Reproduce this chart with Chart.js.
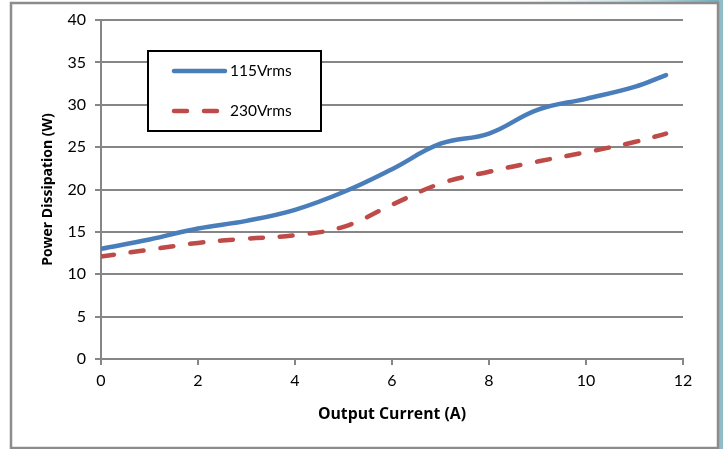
<!DOCTYPE html>
<html>
<head>
<meta charset="utf-8">
<script src="https://cdn.jsdelivr.net/npm/chart.js@4"></script>
<style>
  html, body { margin: 0; padding: 0; background: #ffffff; }
  #wrap { width: 723px; height: 449px; position: relative; }
</style>
</head>
<body>
<div id="wrap"><canvas id="c" width="723" height="449"></canvas></div>
<script>
// ---- Data ----
const seriesNames = ['115Vrms', '230Vrms'];
const current115 = [0, 1, 2, 3, 4, 5, 6, 7, 8, 9, 10, 11, 11.65];
const power115   = [13.0, 14.1, 15.4, 16.3, 17.6, 19.7, 22.4, 25.4, 26.6, 29.4, 30.7, 32.1, 33.5];
const current230 = [0, 1, 2, 3, 4, 5, 6, 7, 8, 9, 10, 11, 11.65];
const power230   = [12.1, 12.9, 13.7, 14.2, 14.6, 15.6, 18.2, 20.7, 22.1, 23.3, 24.4, 25.6, 26.6];
const xTicks = [0, 2, 4, 6, 8, 10, 12];
const yTicks = [0, 5, 10, 15, 20, 25, 30, 35, 40];
const xTitle = 'Output Current (A)';
const yTitle = 'Power Dissipation (W)';

const toPts = (xs, ys) => xs.map((x, i) => ({ x: x, y: ys[i] }));

const BLUE = '#4A7EBB';
const RED = '#BE4B48';
const GRID = '#868686';
const FONT = 'Lato, "Open Sans", sans-serif';
const TITLE_FONT = '"Open Sans", Lato, sans-serif';

const framePlugin = {
  id: 'frame',
  beforeDraw(chart) {
    const ctx = chart.ctx;
    ctx.save();
    ctx.fillStyle = '#ffffff';
    ctx.fillRect(0, 0, chart.width, chart.height);
    const g = ctx.createLinearGradient(520, 0, 723, 0);
    g.addColorStop(0, 'rgba(200,225,230,0)');
    g.addColorStop(1, 'rgba(110,170,185,1)');
    ctx.fillStyle = g;
    ctx.fillRect(520, 0, 203, 3);
    ctx.fillStyle = '#8fbcc6';
    ctx.fillRect(719, 0, 4, 449);
    ctx.strokeStyle = '#8c8c8c';
    ctx.lineWidth = 2.5;
    ctx.strokeRect(11, 3, 707, 445);
    ctx.restore();
  },
  afterDatasetsDraw(chart) {
    // custom legend box
    const ctx = chart.ctx;
    ctx.save();
    ctx.fillStyle = '#ffffff';
    ctx.fillRect(148, 51, 173, 80);
    ctx.strokeStyle = '#000000';
    ctx.lineWidth = 2;
    ctx.strokeRect(148, 51, 173, 80);
    const rows = [71, 111];
    chart.data.datasets.forEach((ds, i) => {
      const y = rows[i];
      ctx.beginPath();
      ctx.strokeStyle = ds.borderColor;
      ctx.lineWidth = ds.borderWidth;
      ctx.lineCap = 'round';
      ctx.setLineDash(ds.borderDash || []);
      ctx.moveTo(174, y);
      ctx.lineTo(ds.borderDash ? 222 : 225, y);
      ctx.stroke();
      ctx.setLineDash([]);
      ctx.fillStyle = '#000000';
      ctx.font = '15.5px ' + FONT;
      ctx.textBaseline = 'middle';
      ctx.textAlign = 'left';
      ctx.fillText(ds.label, 230, y);
    });
    ctx.restore();
  }
};

new Chart(document.getElementById('c'), {
  type: 'scatter',
  data: {
    datasets: [
      {
        label: seriesNames[0],
        data: toPts(current115, power115),
        showLine: true,
        borderColor: BLUE,
        backgroundColor: BLUE,
        borderWidth: 4.5,
        pointRadius: 0,
        tension: 0.4,
        borderCapStyle: 'round'
      },
      {
        label: seriesNames[1],
        data: toPts(current230, power230),
        showLine: true,
        borderColor: RED,
        backgroundColor: RED,
        borderWidth: 4.5,
        borderDash: [13, 17],
        borderCapStyle: 'round',
        pointRadius: 0,
        tension: 0.4
      }
    ]
  },
  options: {
    responsive: false,
    animation: false,
    devicePixelRatio: 1,
    layout: { padding: { left: 0, top: 20, right: 40, bottom: 0 } },
    plugins: { legend: { display: false }, tooltip: { enabled: false } },
    scales: {
      x: {
        type: 'linear',
        min: 0, max: 12,
        afterBuildTicks(scale) { scale.ticks = xTicks.map(v => ({ value: v })); },
        afterFit(scale) { scale.height = 90; },
        grid: { drawOnChartArea: false, color: GRID, lineWidth: 2, tickLength: 6 },
        border: { color: GRID, width: 2 },
        ticks: { color: '#000', font: { family: FONT, size: 16 }, padding: 6, maxRotation: 0 },
        title: { display: true, text: xTitle, color: '#000',
                 font: { family: TITLE_FONT, size: 15.8, weight: 'bold' }, padding: { top: 0, bottom: 25.5 } }
      },
      y: {
        type: 'linear',
        min: 0, max: 40,
        afterBuildTicks(scale) { scale.ticks = yTicks.map(v => ({ value: v })); },
        afterFit(scale) { scale.width = 101; },
        grid: { color: GRID, lineWidth: 2, tickLength: 6 },
        border: { color: GRID, width: 2 },
        ticks: { color: '#000', font: { family: FONT, size: 16 }, padding: 9 },
        title: { display: true, text: yTitle, color: '#000',
                 font: { family: TITLE_FONT, size: 14, weight: 'bold' }, padding: { top: 40, bottom: 0 } }
      }
    }
  },
  plugins: [framePlugin]
});
</script>
</body>
</html>
